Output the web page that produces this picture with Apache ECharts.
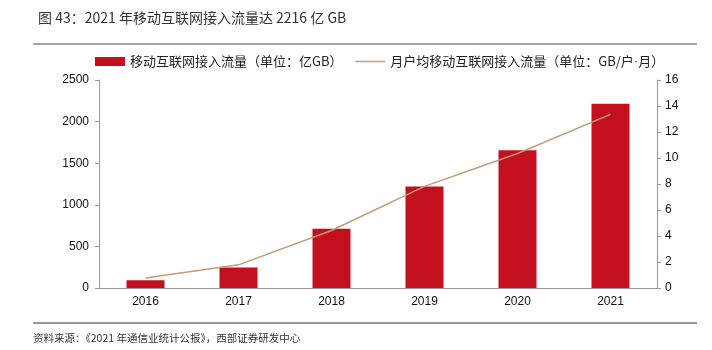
<!DOCTYPE html>
<html>
<head>
<meta charset="utf-8">
<script src="https://cdn.jsdelivr.net/npm/echarts@6/dist/echarts.min.js"></script>
<style>
  html, body { margin: 0; padding: 0; background: #fff; }
  #chart { width: 712px; height: 350px; }
</style>
</head>
<body>
<div id="chart"></div>
<script>
const years = ["2016", "2017", "2018", "2019", "2020", "2021"];
const trafficTotal = [93.6, 246, 711.1, 1220, 1656, 2216];   // 亿GB
const douPerMonth = [0.77, 1.78, 4.42, 7.82, 10.35, 13.36];   // GB/户·月
const leftTicks = [0, 2500, 500];
const rightTicks = [0, 16, 2];

const cjk = '"Noto Sans CJK SC", sans-serif';
const latin = '"Liberation Sans", Arial, sans-serif';

const chart = echarts.init(document.getElementById("chart"));

chart.setOption({
  animation: false,
  textStyle: { fontFamily: latin },
  title: {
    text: "图 43：2021 年移动互联网接入流量达 2216 亿 GB",
    left: 33,
    top: 6,
    textStyle: { fontFamily: cjk, fontSize: 14, fontWeight: "normal", color: "#333" }
  },
  legend: {
    left: 90,
    top: 50,
    itemWidth: 30,
    itemHeight: 9,
    itemGap: 12,
    formatter: name => name.replace("·", "{d|·}"),
    textStyle: {
      fontFamily: cjk, fontSize: 13, color: "#222",
      rich: { d: { fontFamily: latin, fontSize: 13, color: "#222" } }
    },
    data: [
      { name: "移动互联网接入流量（单位：亿GB）", icon: "rect" },
      {
        name: "月户均移动互联网接入流量（单位：GB/户·月）",
        itemStyle: { opacity: 0 },
        lineStyle: { color: "#C49B72", width: 1.5 }
      }
    ]
  },
  grid: { left: 99, right: 55, top: 80, bottom: 62 },
  xAxis: {
    type: "category",
    data: years,
    axisLine: { lineStyle: { color: "#999" } },
    axisTick: { inside: true, length: 4, lineStyle: { color: "#999" } },
    axisLabel: { color: "#111", fontSize: 12, margin: 8 }
  },
  yAxis: [
    {
      type: "value",
      min: leftTicks[0], max: leftTicks[1], interval: leftTicks[2],
      axisLine: { show: true, lineStyle: { color: "#999" } },
      axisTick: { show: true, length: 4, lineStyle: { color: "#999" } },
      axisLabel: { color: "#111", fontSize: 12, margin: 10, formatter: v => String(v) },
      splitLine: { show: false }
    },
    {
      type: "value",
      min: rightTicks[0], max: rightTicks[1], interval: rightTicks[2],
      axisLine: { show: true, lineStyle: { color: "#999" } },
      axisTick: { show: true, length: 4, lineStyle: { color: "#999" } },
      axisLabel: { color: "#111", fontSize: 12, margin: 8 },
      splitLine: { show: false }
    }
  ],
  series: [
    {
      name: "移动互联网接入流量（单位：亿GB）",
      type: "bar",
      data: trafficTotal,
      barWidth: 38,
      itemStyle: { color: "#C30F1E" }
    },
    {
      name: "月户均移动互联网接入流量（单位：GB/户·月）",
      type: "line",
      yAxisIndex: 1,
      data: douPerMonth,
      symbol: "none",
      lineStyle: { color: "#C49B72", width: 1.5 },
      itemStyle: { color: "#C49B72" }
    }
  ],
  graphic: [
    {
      type: "line",
      shape: { x1: 33, y1: 44, x2: 697, y2: 44 },
      style: { stroke: "#888", lineWidth: 1.5 }
    },
    {
      type: "line",
      shape: { x1: 33, y1: 323, x2: 697, y2: 323 },
      style: { stroke: "#333", lineWidth: 1 }
    },
    {
      type: "text",
      left: 33,
      top: 333,
      style: {
        text: "资料来源：《2021 年通信业统计公报》，西部证券研发中心",
        font: '10.5px "Noto Sans CJK SC", sans-serif',
        fill: "#333"
      }
    }
  ]
});
</script>
</body>
</html>
